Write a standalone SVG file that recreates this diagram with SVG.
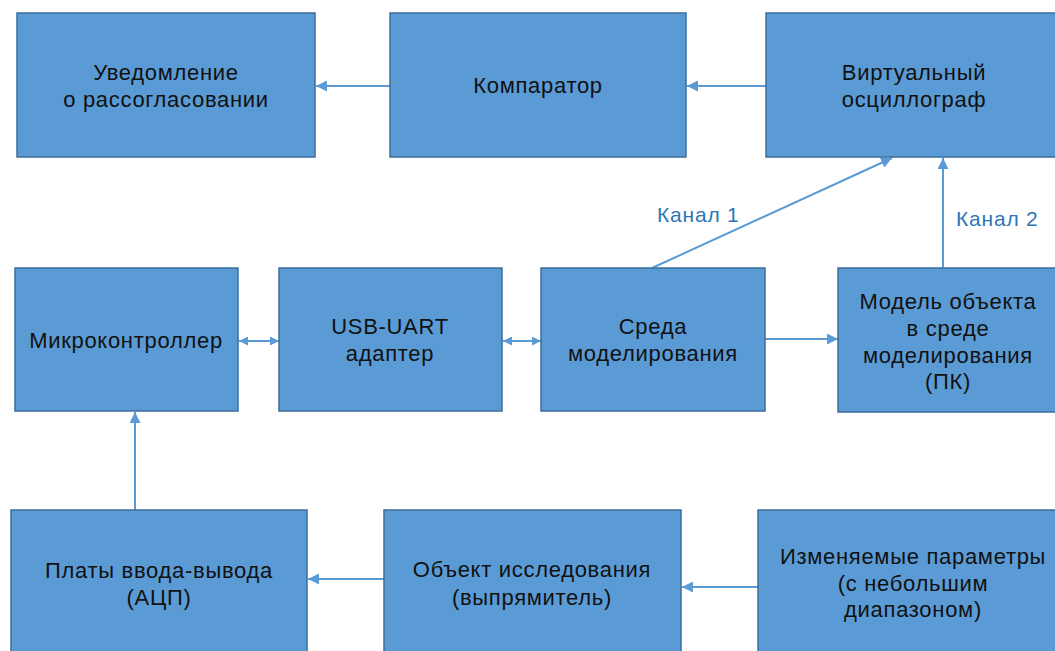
<svg xmlns="http://www.w3.org/2000/svg" width="1055" height="651" viewBox="0 0 1055 651">
<defs>
<style>
.box{fill:#5B9BD5;stroke:#3E6D99;stroke-width:1.5}
.t{font-family:"Liberation Sans",Arial,sans-serif;font-size:22px;letter-spacing:0.7px;fill:#111;text-anchor:middle}
.lbl{font-family:"Liberation Sans",Arial,sans-serif;font-size:21px;letter-spacing:0.8px;fill:#2E75B6}
.c{stroke:#5B9BD5;stroke-width:2;fill:none}
</style>
<marker id="ah" viewBox="0 0 10 10" refX="10" refY="5" markerWidth="9" markerHeight="9" markerUnits="userSpaceOnUse" orient="auto-start-reverse">
<path d="M0,0L10,5L0,10z" fill="#5B9BD5"/>
</marker>
<marker id="ahb" viewBox="0 0 10 10" refX="10" refY="5" markerWidth="11" markerHeight="11" markerUnits="userSpaceOnUse" orient="auto-start-reverse">
<path d="M0,0L10,5L0,10z" fill="#5B9BD5"/>
</marker>
</defs>
<rect width="1055" height="651" fill="#fff"/>
<g id="connectors">
<line class="c" x1="390" y1="86" x2="316" y2="86" marker-end="url(#ahb)"/>
<line class="c" x1="766" y1="86" x2="687" y2="86" marker-end="url(#ahb)"/>
<line class="c" x1="652" y1="268" x2="892" y2="158" marker-end="url(#ahb)"/>
<line class="c" x1="943" y1="268" x2="943" y2="158" marker-end="url(#ahb)"/>
<line class="c" x1="239" y1="341" x2="279" y2="341" marker-start="url(#ah)" marker-end="url(#ah)"/>
<line class="c" x1="503" y1="341" x2="541" y2="341" marker-start="url(#ah)" marker-end="url(#ah)"/>
<line class="c" x1="765" y1="339" x2="838" y2="339" marker-end="url(#ahb)"/>
<line class="c" x1="135" y1="510" x2="135" y2="412" marker-end="url(#ahb)"/>
<line class="c" x1="384" y1="579" x2="308" y2="579" marker-end="url(#ahb)"/>
<line class="c" x1="758" y1="587" x2="682" y2="587" marker-end="url(#ahb)"/>
<text class="lbl" x="657" y="222">Канал 1</text>
<text class="lbl" x="956" y="226">Канал 2</text>
</g>
<g id="n1"><rect class="box" x="17" y="13" width="298" height="144"/>
<text class="t" x="166" y="80">Уведомление</text><text class="t" x="166" y="107">о рассогласовании</text></g>
<g id="n2"><rect class="box" x="390" y="13" width="296" height="144"/>
<text class="t" x="538" y="93">Компаратор</text></g>
<g id="n3"><rect class="box" x="766" y="13" width="300" height="144"/>
<text class="t" x="914" y="80">Виртуальный</text><text class="t" x="914" y="107">осциллограф</text></g>
<g id="n4"><rect class="box" x="15" y="268" width="223" height="143"/>
<text class="t" x="126" y="348">Микроконтроллер</text></g>
<g id="n5"><rect class="box" x="279" y="268" width="223" height="143"/>
<text class="t" x="390" y="334">USB-UART</text><text class="t" x="390" y="361">адаптер</text></g>
<g id="n6"><rect class="box" x="541" y="268" width="224" height="143"/>
<text class="t" x="653" y="334">Среда</text><text class="t" x="653" y="361">моделирования</text></g>
<g id="n7"><rect class="box" x="838" y="268" width="228" height="144"/>
<text class="t" x="948" y="309">Модель объекта</text><text class="t" x="948" y="336">в среде</text><text class="t" x="948" y="363">моделирования</text><text class="t" x="948" y="389">(ПК)</text></g>
<g id="n8"><rect class="box" x="11" y="510" width="296" height="150"/>
<text class="t" x="159" y="578">Платы ввода-вывода</text><text class="t" x="159" y="605">(АЦП)</text></g>
<g id="n9"><rect class="box" x="384" y="510" width="297" height="150"/>
<text class="t" x="532" y="577">Объект исследования</text><text class="t" x="532" y="605">(выпрямитель)</text></g>
<g id="n10"><rect class="box" x="758" y="510" width="308" height="150"/>
<text class="t" x="913" y="564">Изменяемые параметры</text><text class="t" x="913" y="591">(с небольшим</text><text class="t" x="913" y="617">диапазоном)</text></g>
</svg>
